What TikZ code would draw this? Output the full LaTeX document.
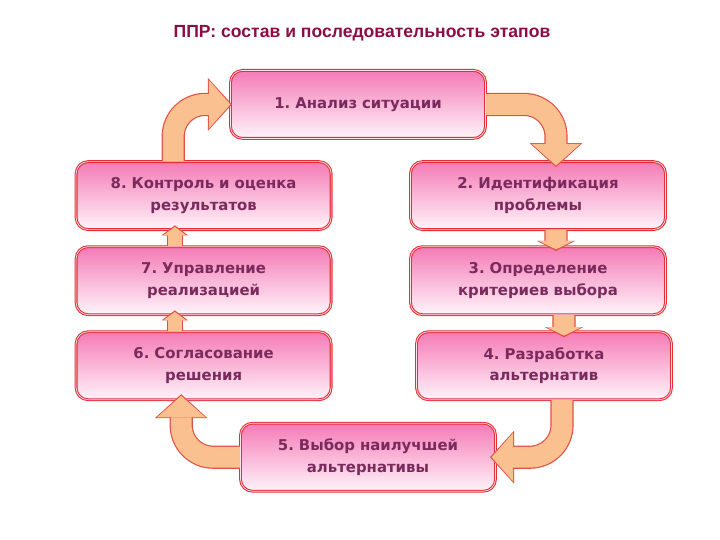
\documentclass[tikz,border=0pt]{standalone}
\usepackage{fontspec}
\setmainfont{DejaVu Sans}
\newfontfamily\titlefont{Liberation Sans}
\usetikzlibrary{positioning,calc,arrows.meta}
\frenchspacing
\definecolor{stageRed}{RGB}{228,46,58}
\definecolor{stagePink}{RGB}{245,122,182}
\definecolor{stageText}{RGB}{122,42,92}
\definecolor{titleWine}{RGB}{140,12,70}
\definecolor{arrowFill}{RGB}{250,192,143}
\definecolor{arrowEdge}{RGB}{222,82,70}

\begin{document}
\begin{tikzpicture}[node distance=0.4cm, auto]
    % Define styles
    \tikzstyle{stage} = [rectangle, draw=stageRed, line width=0.75pt, double=pink!40, double distance=0.5pt, top color=stagePink, bottom color=white!92!stagePink, text=stageText, font=\bfseries\fontsize{10.6}{15.5}\selectfont, text width=6.2cm, text centered, rounded corners=0.3cm, minimum width=6.375cm, minimum height=1.7cm, inner sep=0pt]
    \tikzstyle{bigrim} = [line width=0.58cm, draw=arrowEdge, rounded corners=0.8cm, -{Triangle[length=0.6cm, width=1.32cm, line width=0pt]}]
    \tikzstyle{bigfill} = [line width=0.52cm, draw=arrowFill, rounded corners=0.8cm, shorten >=0.04cm, -{Triangle[length=0.54cm, width=1.22cm, line width=0pt]}]
    \tikzstyle{thinrim} = [line width=0.4cm, draw=arrowEdge, -{Triangle[length=0.25cm, width=0.66cm, line width=0pt]}]
    \tikzstyle{thinfill} = [line width=0.34cm, draw=arrowFill, shorten >=0.04cm, -{Triangle[length=0.21cm, width=0.58cm, line width=0pt]}]
    \tikzstyle{widerim} = [line width=0.58cm, draw=arrowEdge, -{Triangle[length=0.25cm, width=0.95cm, line width=0pt]}]
    \tikzstyle{widefill} = [line width=0.52cm, draw=arrowFill, shorten >=0.04cm, -{Triangle[length=0.21cm, width=0.87cm, line width=0pt]}]

    \useasboundingbox (0,0) rectangle (18,-13.5);

    % Title
    \node [font=\titlefont\bfseries\fontsize{12.5}{15}\selectfont, text=titleWine] (title) at (9.05,-0.83) {ППР: состав и последовательность этапов};

    % Stages
    \node [stage] (n1) at (8.95,-2.61) {1. Анализ ситуации};
    \node [stage] (n8) at (5.09,-4.89) {8. Контроль и оценка\\результатов};
    \node [stage, below=of n8] (n7) {7. Управление\\реализацией};
    \node [stage, below=of n7] (n6) {6. Согласование\\решения};
    \node [stage] (n2) at (13.45,-4.89) {2. Идентификация\\проблемы};
    \node [stage, below=of n2] (n3) {3. Определение\\критериев выбора};
    \node [stage, below=of n3, xshift=0.15cm] (n4) {4. Разработка\\альтернатив};
    \node [stage] (n5) at (9.2,-11.43) {5. Выбор наилучшей\\альтернативы};

    % Curved arrows
    \draw [bigrim] ([xshift=-0.76cm]n8.north) |- ([xshift=0.05cm]n1.west);
    \draw [bigfill] ([xshift=-0.76cm]n8.north) |- ([xshift=0.05cm]n1.west);
    \draw [bigrim] (n1.east) -| ([xshift=0.45cm, yshift=-0.15cm]n2.north);
    \draw [bigfill] (n1.east) -| ([xshift=0.45cm, yshift=-0.15cm]n2.north);
    \draw [bigrim] ([xshift=0.45cm]n4.south) |- ([xshift=-0.15cm]n5.east);
    \draw [bigfill] ([xshift=0.45cm]n4.south) |- ([xshift=-0.15cm]n5.east);
    \draw [bigrim] (n5.west) -| ([xshift=-0.56cm, yshift=0.15cm]n6.south);
    \draw [bigfill] (n5.west) -| ([xshift=-0.56cm, yshift=0.15cm]n6.south);

    % Straight arrows
    \draw [widerim] ([xshift=0.45cm]n2.south) -- ($(n3.north)+(0.45,-0.12)$);
    \draw [widefill] ([xshift=0.45cm]n2.south) -- ($(n3.north)+(0.45,-0.12)$);
    \draw [widerim] ([xshift=0.65cm]n3.south) -- ($(n3.south |- n4.north)+(0.65,-0.15)$);
    \draw [widefill] ([xshift=0.65cm]n3.south) -- ($(n3.south |- n4.north)+(0.65,-0.15)$);
    \draw [thinrim] ([xshift=-0.72cm]n6.north) -- ($(n7.south)+(-0.72,0.12)$);
    \draw [thinfill] ([xshift=-0.72cm]n6.north) -- ($(n7.south)+(-0.72,0.12)$);
    \draw [thinrim] ([xshift=-0.72cm]n7.north) -- ($(n8.south)+(-0.72,0.12)$);
    \draw [thinfill] ([xshift=-0.72cm]n7.north) -- ($(n8.south)+(-0.72,0.12)$);
\end{tikzpicture}
\end{document}
